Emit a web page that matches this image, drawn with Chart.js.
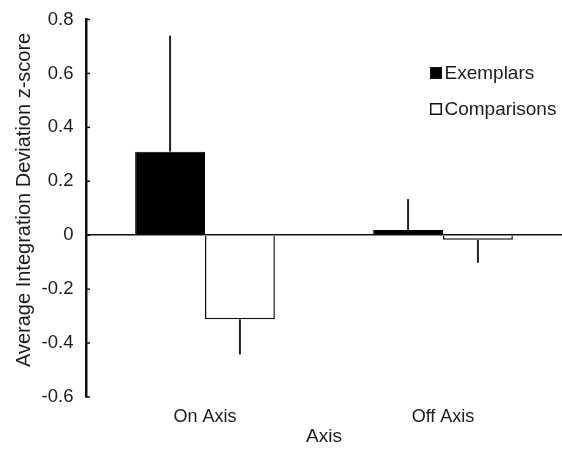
<!DOCTYPE html>
<html>
<head>
<meta charset="utf-8">
<script src="https://cdn.jsdelivr.net/npm/chart.js@4.4.1/dist/chart.umd.min.js"></script>
<style>
    html, body { margin: 0; padding: 0; background: #fff; }
    #wrap { position: relative; width: 562px; height: 453px; }
</style>
</head>
<body>
<div id="wrap"><canvas id="chart"></canvas></div>
<script>
// values
const categories = ["On Axis", "Off Axis"];
const seriesNames = ["Exemplars", "Comparisons"];
const exemplars = [0.31, 0.019];
const comparisons = [-0.312, -0.017];
const exemplarErr = [0.43, 0.115];
const comparisonErr = [0.13, 0.085];
const yTicks = [0.8, 0.6, 0.4, 0.2, 0, -0.2, -0.4, -0.6];

const textColor = "#1c1c1c";
const fontFamily = "'Liberation Sans', Arial, Helvetica, sans-serif";

// one-sided error bars, drawn away from zero
const errorBars = {
    id: "errorBars",
    afterDatasetsDraw(chart) {
        const ctx = chart.ctx;
        const yScale = chart.scales.y;
        const errs = [exemplarErr, comparisonErr];
        ctx.save();
        ctx.strokeStyle = "#222";
        ctx.lineWidth = 2;
        chart.data.datasets.forEach((ds, i) => {
            const meta = chart.getDatasetMeta(i);
            meta.data.forEach((bar, j) => {
                const v = ds.data[j];
                const end = v >= 0 ? v + errs[i][j] : v - errs[i][j];
                ctx.beginPath();
                ctx.moveTo(bar.x, bar.y);
                ctx.lineTo(bar.x, yScale.getPixelForValue(end));
                ctx.stroke();
            });
        });
        ctx.restore();
    },
};

// small inward tick marks on the y axis + the legend box in the corner
const decorations = {
    id: "decorations",
    afterDraw(chart) {
        const ctx = chart.ctx;
        const yScale = chart.scales.y;
        const x0 = chart.chartArea.left;
        ctx.save();
        ctx.strokeStyle = "#111";
        ctx.lineWidth = 1.5;
        yScale.ticks.forEach((t) => {
            const y = yScale.getPixelForValue(t.value);
            ctx.beginPath();
            ctx.moveTo(x0, y);
            ctx.lineTo(x0 + 4, y);
            ctx.stroke();
        });

        // legend
        const lx = 430;
        const rows = [73, 109];
        ctx.font = "19px " + fontFamily;
        ctx.textBaseline = "middle";
        chart.data.datasets.forEach((ds, i) => {
            const y = rows[i];
            ctx.fillStyle = ds.backgroundColor;
            ctx.fillRect(lx, y - 6, 12, 12);
            ctx.lineWidth = 1.5;
            ctx.strokeStyle = "#111";
            ctx.strokeRect(lx + 0.75, y - 5.25, 10.5, 10.5);
            ctx.fillStyle = textColor;
            ctx.fillText(ds.label, lx + 14.5, y + 1);
        });
        ctx.restore();
    },
};

new Chart(document.getElementById("chart"), {
    type: "bar",
    data: {
        labels: categories,
        datasets: [
            {
                label: seriesNames[0],
                data: exemplars,
                backgroundColor: "#000",
                borderColor: "#000",
                borderWidth: 1,
            },
            {
                label: seriesNames[1],
                data: comparisons,
                backgroundColor: "#fff",
                borderColor: "#111",
                borderWidth: 1.5,
            },
        ],
    },
    options: {
        responsive: true,
        maintainAspectRatio: false,
        animation: false,
        datasets: {
            bar: { categoryPercentage: 0.587, barPercentage: 1 },
        },
        layout: { padding: { left: 0, top: 19.5, right: 0, bottom: 0 } },
        plugins: {
            legend: { display: false },
            tooltip: { enabled: false },
        },
        scales: {
            x: {
                afterFit: (scale) => { scale.height = 56; },
                grid: { display: false, drawTicks: false },
                border: { display: false },
                ticks: {
                    color: textColor,
                    font: { family: fontFamily, size: 18 },
                    padding: 9,
                },
                title: {
                    display: true,
                    text: "Axis",
                    color: textColor,
                    font: { family: fontFamily, size: 19 },
                    padding: { top: 0, bottom: 4.6 },
                },
            },
            y: {
                min: -0.6,
                max: 0.8,
                afterFit: (scale) => {
                    scale.width = 86;
                    scale.paddingTop = 0;
                    scale.paddingBottom = 0;
                },
                afterBuildTicks: (scale) => {
                    scale.ticks = yTicks.map((v) => ({ value: v }));
                },
                grid: {
                    drawTicks: false,
                    lineWidth: 1.5,
                    color: (c) => (c.tick && c.tick.value === 0 ? "#111" : "rgba(0,0,0,0)"),
                },
                border: { display: true, color: "#111", width: 2.5 },
                ticks: {
                    color: textColor,
                    font: { family: fontFamily, size: 18.5 },
                    padding: 12.5,
                    callback: (v) => (v === 0 ? "0" : v.toFixed(1)),
                },
                title: {
                    display: true,
                    // leading spaces nudge the centred title up a little, as in the original
                    text: "   Average Integration Deviation z-score",
                    color: textColor,
                    font: { family: fontFamily, size: 20 },
                    padding: { top: 12, bottom: 4 },
                },
            },
        },
    },
    plugins: [errorBars, decorations],
});
</script>
</body>
</html>
